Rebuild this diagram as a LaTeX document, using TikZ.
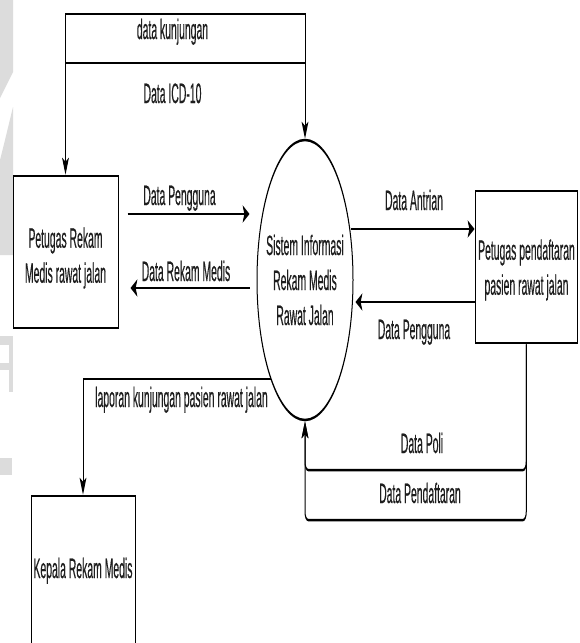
\documentclass[tikz,border=0pt]{standalone}
\usepackage{fontspec}
\setmainfont{Liberation Sans}
\newfontfamily\lblfont[FakeStretch=0.93,FakeBold=0.6]{Liberation Sans}
\usetikzlibrary{arrows.meta,shapes.geometric,calc}

\definecolor{inkgray}{RGB}{30,30,30}
\definecolor{wmgray}{RGB}{220,220,220}

\tikzset{
  edge/.style={line width=2.5pt, draw=black},
  flow/.style={edge, -{Stealth[length=17pt,width=17pt,inset=4pt]}},
  entity/.style={draw=black, line width=2.5pt, rectangle, inner sep=0pt},
  process/.style={draw=black, line width=2.5pt, ellipse, inner sep=0pt},
  lbl/.style={font=\lblfont\fontsize{28}{35}\selectfont, inner sep=0pt, text=inkgray},
  lblblock/.style={lbl, align=center},
}

\begin{document}
\begin{tikzpicture}
\useasboundingbox (0pt,0pt) rectangle (580pt,-643pt);
\fill[white] (0pt,0pt) rectangle (580pt,-643pt);
\clip (0pt,0pt) rectangle (580pt,-643pt);

% faint grey marks along the left margin
\begin{scope}[x=1pt,y=-1pt]
  \fill[wmgray] (0,0) -- (13,0) -- (13,72) -- (0,98) -- cycle;
  \fill[wmgray] (0,160) -- (5,140) -- (13,107) -- (13,255) -- (0,255) -- cycle;
  \fill[wmgray] (0,336) rectangle (13,345);
  \fill[wmgray] (9,336) rectangle (13,392);
  \fill[wmgray] (0,363) rectangle (9,370);
  \fill[wmgray] (0,458) rectangle (12,475);
\end{scope}

% the diagram is laid out at full width and narrowed as a whole
\begin{scope}[transform canvas={xscale=0.4}, x=2.5pt, y=-1pt]
  % external entities and the process
  \node[entity, minimum width=262.5pt, minimum height=152pt] (prm) at (65.5,252) {};
  \node[lblblock] (prmtxt) at (65.5,258) {Petugas Rekam\\Medis rawat jalan};

  \node[process, minimum width=240pt, minimum height=280pt] (sim) at (305,280) {};
  \node[lblblock] (simtxt) at (305,280) {Sistem Informasi\\Rekam Medis\\Rawat Jalan};

  \node[entity, minimum width=256.25pt, minimum height=152pt] (reg) at (526.25,267) {};
  \node[lblblock] (regtxt) at (526.5,270) {Petugas pendaftaran\\pasien rawat jalan};

  \node[entity, minimum width=260pt, minimum height=158pt] (kep) at (83,575) {};
  \node[lbl, anchor=base] (keptxt) at (83,578) {Kepala Rekam Medis};

  % levels of the horizontal runs
  \coordinate (yTop)  at (0,14);
  \coordinate (yMid)  at (0,63);
  \coordinate (yPg)   at (0,214);
  \coordinate (yRm)   at (0,288);
  \coordinate (yAn)   at (0,229);
  \coordinate (yPr)   at (0,302);
  \coordinate (yLp)   at (0,379);
  \coordinate (yPoli) at (0,470);
  \coordinate (yDaft) at (0,520);

  % data flows
  \draw[flow] (prm.north |- yMid) -- (prm.north |- yTop) -- (sim.north |- yTop) -- (sim.north);
  \draw[flow] (sim.north |- yMid) -- (prm.north |- yMid) -- (prm.north);

  \draw[flow] ($(prm.east |- yPg)+(9,0)$) -- ($(sim.west |- yPg)+(-7,0)$);
  \draw[flow] ($(sim.west |- yRm)+(-7,0)$) -- ($(prm.east |- yRm)+(12,0)$);

  \draw[flow] ($(sim.east |- yAn)+(-3,0)$) -- (reg.west |- yAn);
  \draw[flow] (reg.west |- yPr) -- ($(sim.east |- yPr)+(2,0)$);

  \draw[flow] ($(sim.west |- yLp)+(14,0)$) -- (kep.north |- yLp) -- (kep.north);

  \draw[flow, rounded corners=8pt] (reg.south) -- (reg.south |- yPoli) -- (sim.south |- yPoli) -- (sim.south);
  \draw[flow, rounded corners=8pt] (reg.south) -- (reg.south |- yDaft) -- (sim.south |- yDaft) -- (sim.south);

  % flow labels
  \node[lbl, anchor=base] (l1) at (172.5,39)  {data kunjungan};
  \node[lbl, anchor=base] (l2) at (172.5,103) {Data ICD-10};
  \node[lbl, anchor=base] (l3) at (179.5,205) {Data Pengguna};
  \node[lbl, anchor=base] (l4) at (186,281)   {Data Rekam Medis};
  \node[lbl, anchor=base] (l5) at (414,210)   {Data Antrian};
  \node[lbl, anchor=base] (l6) at (414,339)   {Data Pengguna};
  \node[lbl, anchor=base] (l7) at (181.5,407) {laporan kunjungan pasien rawat jalan};
  \node[lbl, anchor=base] (l8) at (422,453)   {Data Poli};
  \node[lbl, anchor=base] (l9) at (420,503)   {Data Pendaftaran};
\end{scope}
\end{tikzpicture}
\end{document}
